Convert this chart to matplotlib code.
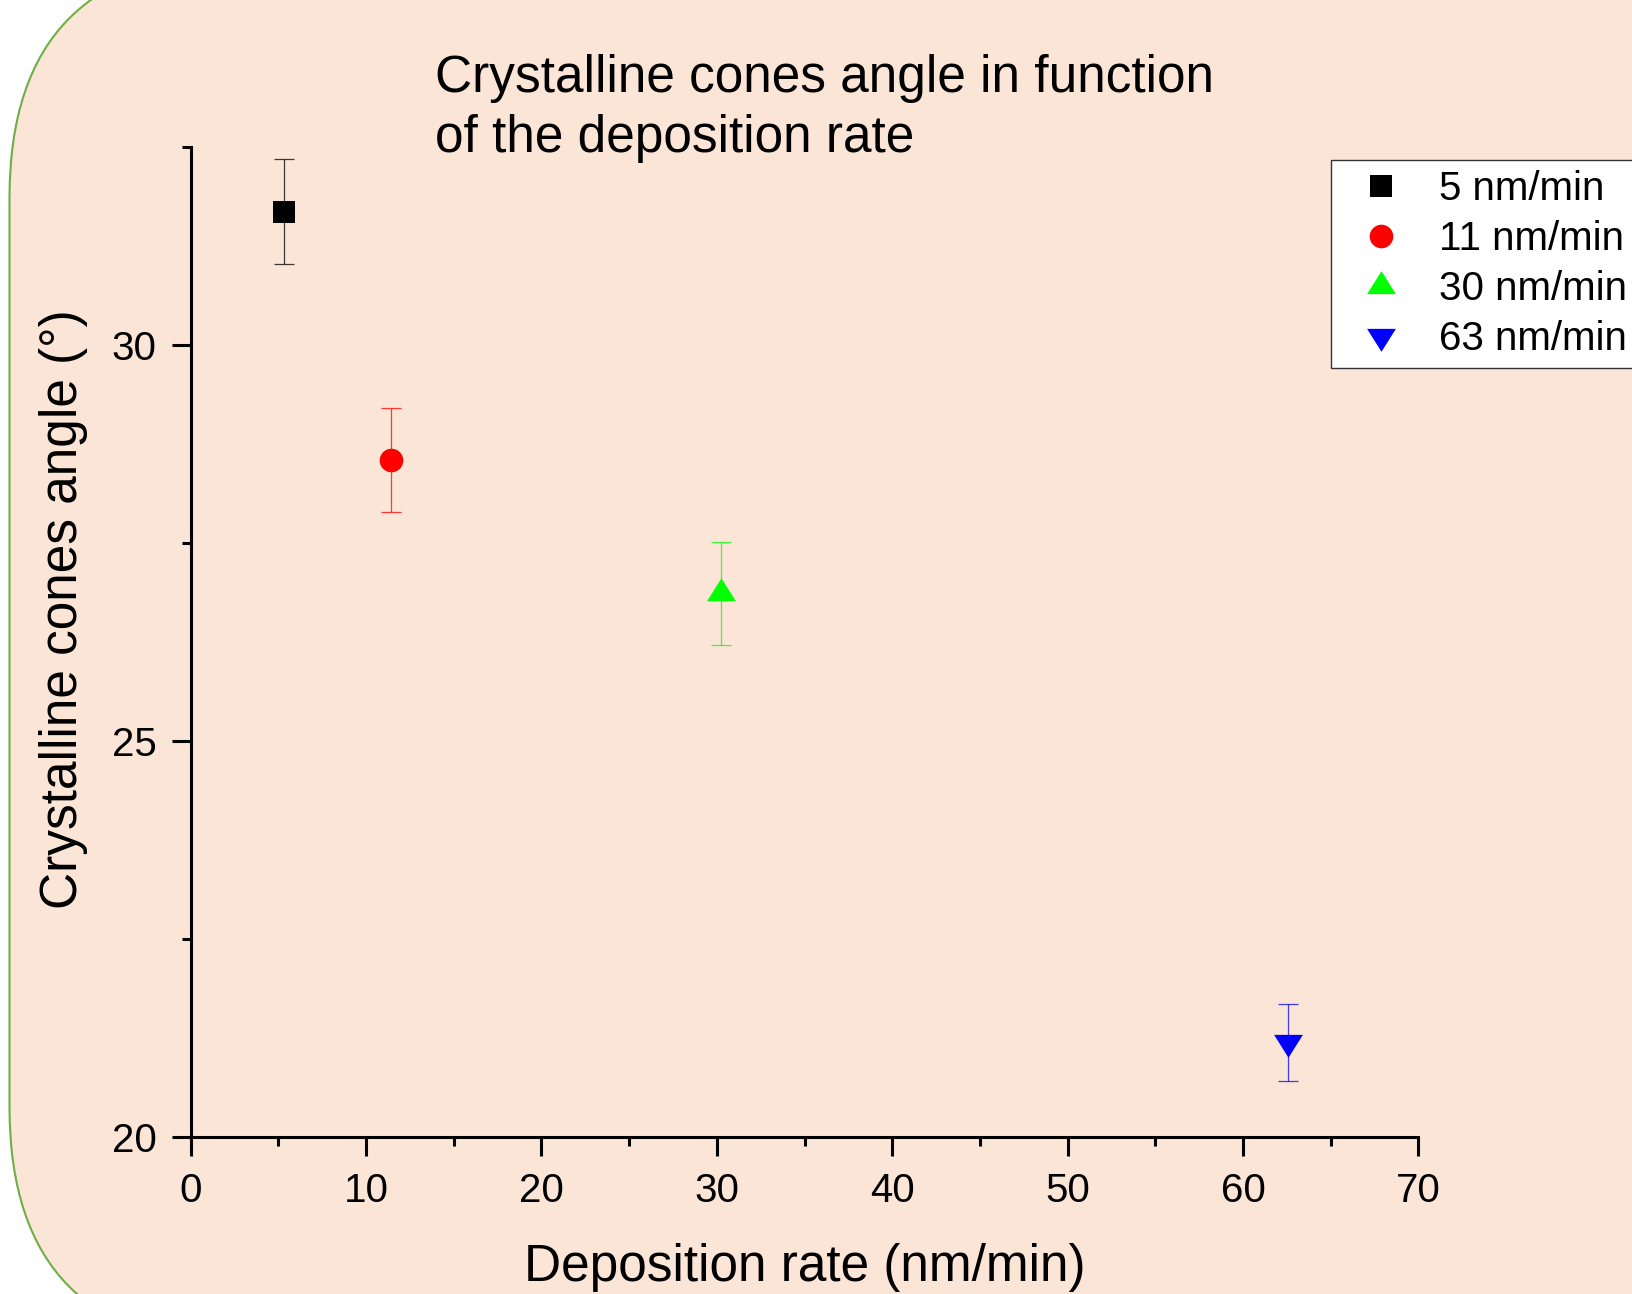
import numpy as np
import matplotlib
matplotlib.use("Agg")
import matplotlib.pyplot as plt
from matplotlib.patches import FancyBboxPatch

plt.rcParams['font.family'] = ['Liberation Sans', 'DejaVu Sans']

# data
labels = ['5 nm/min', '11 nm/min', '30 nm/min', '63 nm/min']
rate = [5.32, 11.41, 30.22, 62.58]
angle = [31.68, 28.54, 26.86, 21.19]
angle_err = [0.665, 0.657, 0.646, 0.488]
colors = ['#000000', '#FF0000', '#00FF00', '#0000FF']

# triangles as Origin draws them: wider than tall, centroid on the point
tri_up = [(0, 1.06), (-1, -0.53), (1, -0.53), (0, 1.06)]
tri_down = [(0, -1.06), (-1, 0.53), (1, 0.53), (0, -1.06)]
markers = ['s', 'o', tri_up, tri_down]
msizes = [16, 17, 22, 22]

W, H = 1633, 1294
fig = plt.figure(figsize=(W / 100, H / 100), dpi=100, facecolor='white')

# rounded peach panel behind everything
bg = fig.add_axes([0, 0, 1, 1], zorder=0)
bg.set_xlim(0, W)
bg.set_ylim(H, 0)
bg.axis('off')
bg.add_patch(FancyBboxPatch((9.5, -42), 2000, 1389,
                            boxstyle='round,pad=0,rounding_size=240',
                            facecolor='#FBE5D6', edgecolor='#70AD47', linewidth=1.5))

ax = fig.add_axes([190.6 / W, 1 - 1136.7 / H, 1227.9 / W, 990 / H], zorder=1)
ax.set_facecolor('none')

for i in range(len(rate)):
    ax.errorbar(rate[i], angle[i], yerr=angle_err[i], fmt='none', ecolor=colors[i],
                elinewidth=0.9, capsize=6.85, capthick=0.9, alpha=0.75, zorder=2)
    ax.plot(rate[i], angle[i], linestyle='none', marker=markers[i], markersize=msizes[i],
            color=colors[i], markeredgewidth=0, label=labels[i], zorder=3, clip_on=False)

ax.set_xlim(0, 70)
ax.set_ylim(20, 32.5)
ax.set_xticks(np.arange(0, 71, 10))
ax.set_xticks(np.arange(5, 70, 10), minor=True)
ax.set_yticks([20, 25, 30])
ax.set_yticks([22.5, 27.5, 32.5], minor=True)

for s in ['top', 'right']:
    ax.spines[s].set_visible(False)
for s in ['left', 'bottom']:
    ax.spines[s].set_linewidth(2.2)

ax.tick_params(which='major', direction='out', length=13.5, width=2.2, labelsize=29)
ax.tick_params(which='minor', direction='out', length=6.5, width=2.2)
ax.tick_params(axis='x', which='major', pad=12)
ax.tick_params(axis='y', which='major', pad=11)

ax.set_xlabel('Deposition rate (nm/min)', fontsize=37, labelpad=24)
ax.set_ylabel('Crystalline cones angle (°)', fontsize=37)
ax.yaxis.set_label_coords(-0.0836, 0.533)

# title box: baseline of the last line
fig.text(435 / W, 1 - 152 / H, 'Crystalline cones angle in function\nof the deposition rate',
         fontsize=37, ha='left', va='baseline', linespacing=1.29)

leg = ax.legend(loc='upper left', bbox_to_anchor=(1331 / W, 1 - 160 / H),
                bbox_transform=fig.transFigure, borderaxespad=0, fontsize=29,
                frameon=True, fancybox=False, edgecolor='#333333', framealpha=1,
                borderpad=0.25, labelspacing=0.3, handlelength=2.0,
                handletextpad=0.42, numpoints=1)
leg.get_frame().set_linewidth(1.0)

fig.savefig('out.png', dpi=100)
